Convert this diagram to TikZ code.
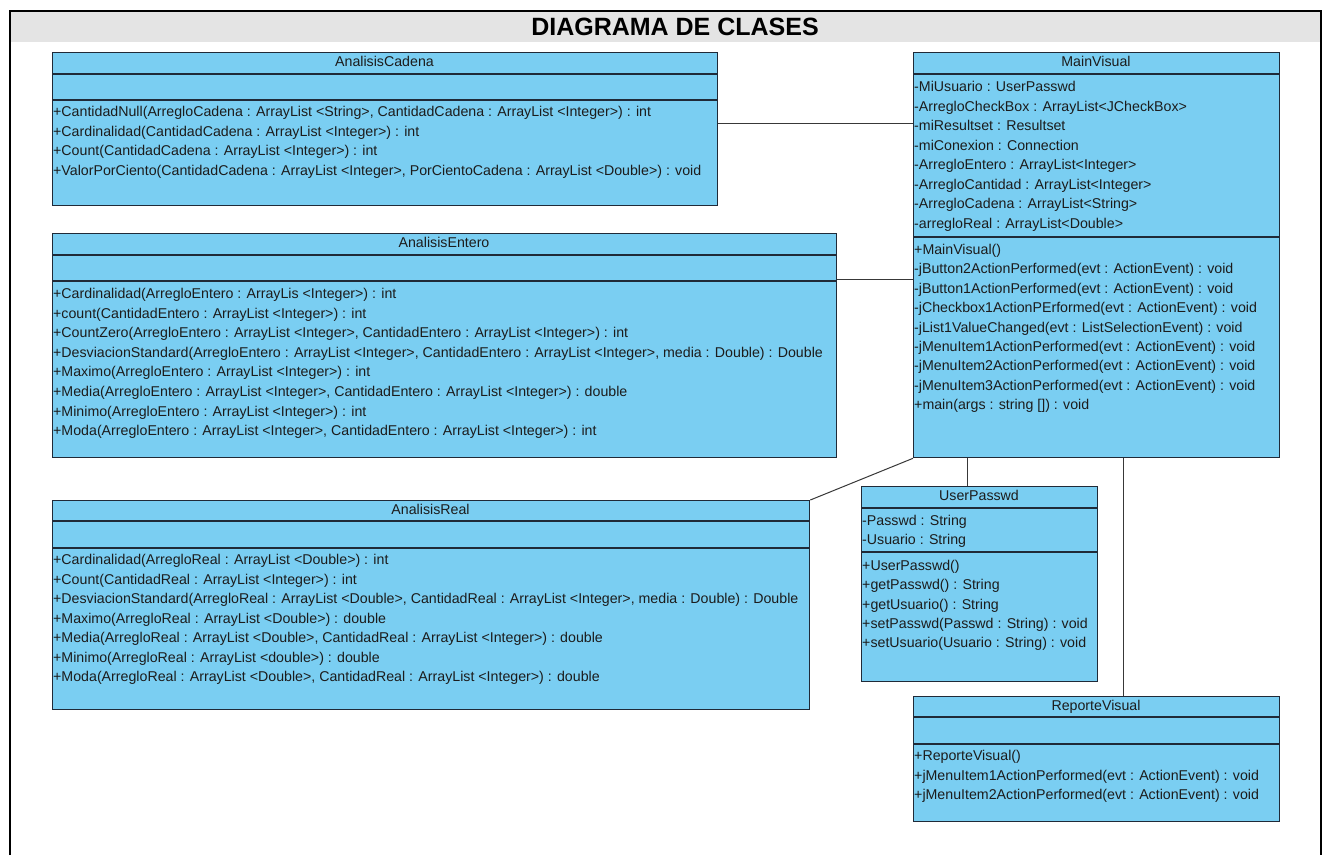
\documentclass[tikz,border=0pt]{standalone}
\usepackage{fontspec}
\setmainfont{Liberation Sans}
\usetikzlibrary{calc}

\definecolor{umlfill}{RGB}{122,206,242}
\definecolor{umlline}{RGB}{32,42,56}
\definecolor{bandgray}{RGB}{228,228,228}
\definecolor{membertext}{RGB}{28,28,28}

\newcommand{\membersize}{\fontsize{14.2}{16}\selectfont}
% one text row of a class compartment
\newcommand{\mline}[4]{\node[member] (#1) at (#2,#3) {#4};}

\tikzset{
  classbox/.style={draw=umlline, line width=1.3pt, fill=umlfill, rectangle,
    inner sep=0pt, anchor=north west},
  divider/.style={draw=umlline, line width=1.3pt},
  member/.style={anchor=west, inner xsep=0pt, inner ysep=0pt,
    text height=10pt, text depth=3pt, font=\membersize, text=membertext},
  cname/.style={inner sep=0pt, text height=10pt, text depth=3pt,
    font=\membersize, text=membertext},
  link/.style={draw=black!78, line width=1pt},
  frameline/.style={draw=black, line width=2.6pt}
}

\begin{document}
\begin{tikzpicture}[x=1pt,y=-1pt]
\useasboundingbox (0,0) rectangle (1327,855);
\fill[white] (0,0) rectangle (1327,855);

% heading band and frame
\fill[bandgray] (10,11) rectangle (1321,42);
\draw[frameline] (10,855) -- (10,11) -- (1321,11) -- (1321,855);
\node[font=\bfseries\fontsize{25}{25}\selectfont, inner sep=0pt] (title) at (675,27) {DIAGRAMA DE CLASES};

% ---------------- AnalisisCadena ----------------
\node[classbox, minimum width=665pt, minimum height=153pt] (cadena) at (52,52) {};
\draw[divider] (52,74) -- (717,74);
\draw[divider] (52,100) -- (717,100);
\node[cname] (cadenaN) at (384.5,63) {AnalisisCadena};
\mline{cad1}{53}{113}{+CantidadNull(ArregloCadena : ArrayList <String>, CantidadCadena : ArrayList <Integer>) : int}
\mline{cad2}{53}{132.5}{+Cardinalidad(CantidadCadena : ArrayList <Integer>) : int}
\mline{cad3}{53}{152}{+Count(CantidadCadena : ArrayList <Integer>) : int}
\mline{cad4}{53}{171.5}{+ValorPorCiento(CantidadCadena : ArrayList <Integer>, PorCientoCadena : ArrayList <Double>) : void}

% ---------------- MainVisual ----------------
\node[classbox, minimum width=366pt, minimum height=405pt] (main) at (913,52) {};
\draw[divider] (913,74) -- (1279,74);
\draw[divider] (913,237) -- (1279,237);
\node[cname] (mainN) at (1096,63) {MainVisual};
\mline{mva1}{914}{88}{-MiUsuario : UserPasswd}
\mline{mva2}{914}{107.5}{-ArregloCheckBox : ArrayList<JCheckBox>}
\mline{mva3}{914}{127}{-miResultset : Resultset}
\mline{mva4}{914}{146.5}{-miConexion : Connection}
\mline{mva5}{914}{166}{-ArregloEntero : ArrayList<Integer>}
\mline{mva6}{914}{185.5}{-ArregloCantidad : ArrayList<Integer>}
\mline{mva7}{914}{205}{-ArregloCadena : ArrayList<String>}
\mline{mva8}{914}{224.5}{-arregloReal : ArrayList<Double>}
\mline{mvo1}{914}{251}{+MainVisual()}
\mline{mvo2}{914}{270.4}{-jButton2ActionPerformed(evt : ActionEvent) : void}
\mline{mvo3}{914}{289.8}{-jButton1ActionPerformed(evt : ActionEvent) : void}
\mline{mvo4}{914}{309.2}{-jCheckbox1ActionPErformed(evt : ActionEvent) : void}
\mline{mvo5}{914}{328.6}{-jList1ValueChanged(evt : ListSelectionEvent) : void}
\mline{mvo6}{914}{348}{-jMenuItem1ActionPerformed(evt : ActionEvent) : void}
\mline{mvo7}{914}{367.4}{-jMenuItem2ActionPerformed(evt : ActionEvent) : void}
\mline{mvo8}{914}{386.8}{-jMenuItem3ActionPerformed(evt : ActionEvent) : void}
\mline{mvo9}{914}{406.2}{+main(args : string []) : void}

% ---------------- AnalisisEntero ----------------
\node[classbox, minimum width=784pt, minimum height=224pt] (entero) at (52,233) {};
\draw[divider] (52,255) -- (836,255);
\draw[divider] (52,281) -- (836,281);
\node[cname] (enteroN) at (444,244) {AnalisisEntero};
\mline{ent1}{53}{295}{+Cardinalidad(ArregloEntero : ArrayLis <Integer>) : int}
\mline{ent2}{53}{314.6}{+count(CantidadEntero : ArrayList <Integer>) : int}
\mline{ent3}{53}{334.2}{+CountZero(ArregloEntero : ArrayList <Integer>, CantidadEntero : ArrayList <Integer>) : int}
\mline{ent4}{53}{353.8}{+DesviacionStandard(ArregloEntero : ArrayList <Integer>, CantidadEntero : ArrayList <Integer>, media : Double) : Double}
\mline{ent5}{53}{373.4}{+Maximo(ArregloEntero : ArrayList <Integer>) : int}
\mline{ent6}{53}{393}{+Media(ArregloEntero : ArrayList <Integer>, CantidadEntero : ArrayList <Integer>) : double}
\mline{ent7}{53}{412.6}{+Minimo(ArregloEntero : ArrayList <Integer>) : int}
\mline{ent8}{53}{432.2}{+Moda(ArregloEntero : ArrayList <Integer>, CantidadEntero : ArrayList <Integer>) : int}

% ---------------- AnalisisReal ----------------
\node[classbox, minimum width=757pt, minimum height=209pt] (real) at (52,500) {};
\draw[divider] (52,521) -- (809,521);
\draw[divider] (52,548) -- (809,548);
\node[cname] (realN) at (430.5,511) {AnalisisReal};
\mline{rea1}{53}{561}{+Cardinalidad(ArregloReal : ArrayList <Double>) : int}
\mline{rea2}{53}{580.5}{+Count(CantidadReal : ArrayList <Integer>) : int}
\mline{rea3}{53}{600}{+DesviacionStandard(ArregloReal : ArrayList <Double>, CantidadReal : ArrayList <Integer>, media : Double) : Double}
\mline{rea4}{53}{619.5}{+Maximo(ArregloReal : ArrayList <Double>) : double}
\mline{rea5}{53}{639}{+Media(ArregloReal : ArrayList <Double>, CantidadReal : ArrayList <Integer>) : double}
\mline{rea6}{53}{658.5}{+Minimo(ArregloReal : ArrayList <double>) : double}
\mline{rea7}{53}{678}{+Moda(ArregloReal : ArrayList <Double>, CantidadReal : ArrayList <Integer>) : double}

% ---------------- UserPasswd ----------------
\node[classbox, minimum width=236pt, minimum height=195pt] (user) at (861,486) {};
\draw[divider] (861,508) -- (1097,508);
\draw[divider] (861,552) -- (1097,552);
\node[cname] (userN) at (979,497) {UserPasswd};
\mline{usa1}{862}{522}{-Passwd : String}
\mline{usa2}{862}{541}{-Usuario : String}
\mline{uso1}{862}{567}{+UserPasswd()}
\mline{uso2}{862}{586.3}{+getPasswd() : String}
\mline{uso3}{862}{605.6}{+getUsuario() : String}
\mline{uso4}{862}{624.9}{+setPasswd(Passwd : String) : void}
\mline{uso5}{862}{644.2}{+setUsuario(Usuario : String) : void}

% ---------------- ReporteVisual ----------------
\node[classbox, minimum width=366pt, minimum height=125pt] (reporte) at (913,696) {};
\draw[divider] (913,717) -- (1279,717);
\draw[divider] (913,744) -- (1279,744);
\node[cname] (reporteN) at (1096,707) {ReporteVisual};
\mline{rpo1}{914}{757}{+ReporteVisual()}
\mline{rpo2}{914}{776.5}{+jMenuItem1ActionPerformed(evt : ActionEvent) : void}
\mline{rpo3}{914}{796}{+jMenuItem2ActionPerformed(evt : ActionEvent) : void}

% ---------------- associations ----------------
\coordinate (rowA) at (0,123);
\coordinate (rowB) at (0,279);
\coordinate (colU) at (967,0);
\coordinate (colR) at (1123,0);
\draw[link] (cadena.east |- rowA) -- (main.west |- rowA);
\draw[link] (entero.east |- rowB) -- (main.west |- rowB);
\draw[link] (real.north east) -- (main.south west);
\draw[link] (colU |- main.south) -- (colU |- user.north);
\draw[link] (colR |- main.south) -- (colR |- reporte.north);
\end{tikzpicture}
\end{document}
